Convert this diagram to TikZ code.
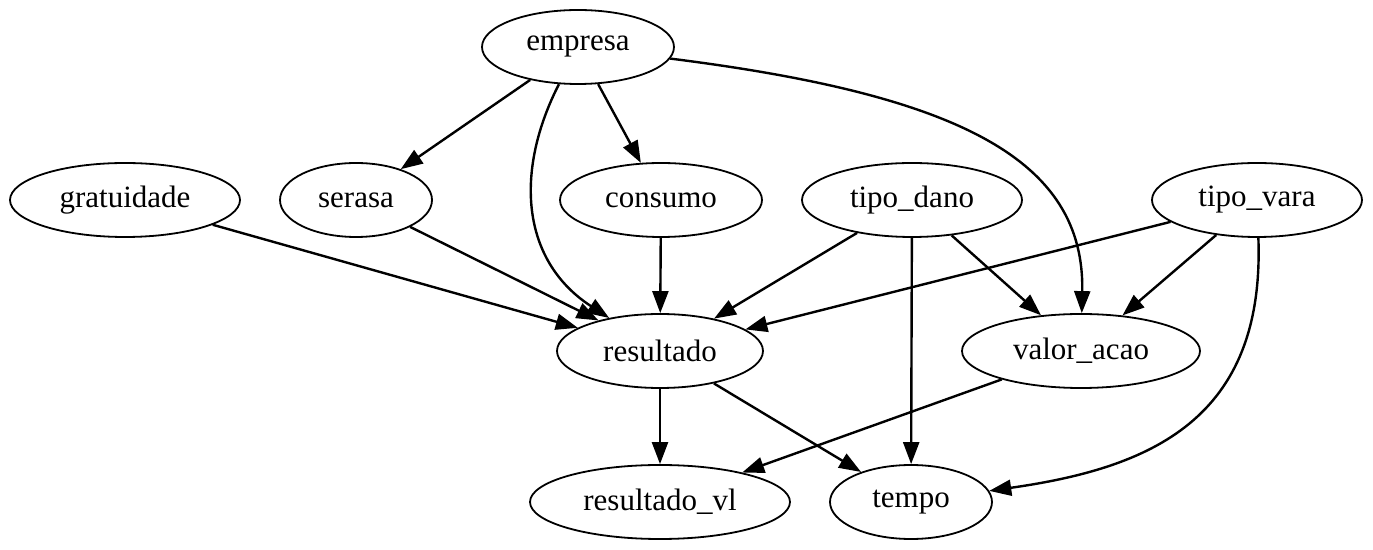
\documentclass[tikz,border=0pt]{standalone}
\usepackage{fontspec}
\setmainfont{Liberation Serif}
\usepackage{tikz}
\usetikzlibrary{arrows.meta,shapes,positioning}
\tikzset{>={Triangle[length=11pt,width=8pt]}}
\tikzset{
	var/.style={ellipse, draw, line width=0.9pt, inner sep=0pt, minimum height=37pt, font=\fontsize{15.5}{18}\selectfont},
	edge/.style={->, line width=1.2pt}
}

\begin{document}
\begin{tikzpicture}[x=0.5pt, y=-0.5pt]
	\useasboundingbox (0, 0) rectangle (1373, 550);
	\node (empresa) [var, minimum width=96pt] at (578, 47) {empresa};
	\node (gratuidade) [var, minimum width=115pt] at (125, 200) {gratuidade};
	\node (serasa) [var, minimum width=76pt] at (356, 200) {serasa};
	\node (consumo) [var, minimum width=101pt] at (661, 200) {consumo};
	\node (tipodano) [var, minimum width=110pt] at (912, 200) {tipo\_dano};
	\node (tipovara) [var, minimum width=105pt] at (1257, 200) {tipo\_vara};
	\node (resultado) [var, minimum width=103pt] at (660, 351) {resultado};
	\node (valoracao) [var, minimum width=119pt] at (1081, 351) {valor\_acao};
	\node (resultadovl) [var, minimum width=130pt] at (660, 502) {resultado\_vl};
	\node (tempo) [var, minimum width=81pt] at (911, 502) {tempo};
	\draw [edge] (empresa) -- (serasa);
	\draw [edge] (empresa) .. controls (515, 170) and (520, 260) .. (resultado);
	\draw [edge] (empresa) -- (consumo);
	\draw [edge] (empresa) .. controls (960, 95) and (1085, 160) .. (valoracao);
	\draw [edge] (gratuidade) -- (resultado);
	\draw [edge] (serasa) -- (resultado);
	\draw [edge] (consumo) -- (resultado);
	\draw [edge] (tipodano) -- (resultado);
	\draw [edge] (tipodano) -- (tempo);
	\draw [edge] (tipodano) -- (valoracao);
	\draw [edge] (tipovara) -- (resultado);
	\draw [edge] (tipovara) -- (valoracao);
	\draw [edge] (tipovara) .. controls (1265, 420) and (1150, 468) .. (tempo);
	\draw [edge] (resultado) -- (resultadovl);
	\draw [edge] (resultado) -- (tempo);
	\draw [edge] (valoracao) -- (resultadovl);
\end{tikzpicture}
\end{document}
